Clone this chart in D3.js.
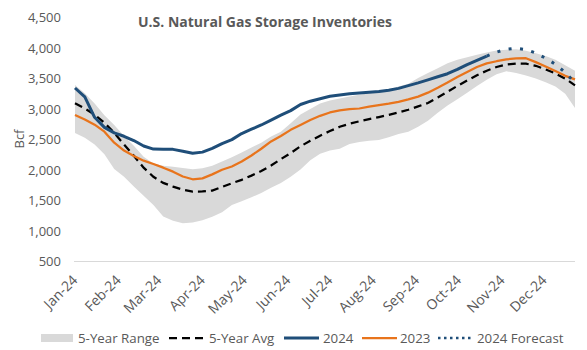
<!DOCTYPE html>
<html><head><meta charset="utf-8">
<script src="https://cdn.jsdelivr.net/npm/d3@7"></script>
<style>
html,body{margin:0;padding:0;background:#fff;}
svg text{font-family:"Open Sans",sans-serif;fill:#595959;}
</style></head>
<body><svg id="c" width="587" height="350"></svg>
<script>
// Weekly report dates (week ending), 2024
const startDate = "2024-01-05";
const weeks = 52;
const monthTickLabels = ["Jan-24","Feb-24","Mar-24","Apr-24","May-24","Jun-24","Jul-24","Aug-24","Sep-24","Oct-24","Nov-24","Dec-24"];
const yTicks = [500,1000,1500,2000,2500,3000,3500,4000,4500];

const series2024 = [3336,3190,2856,2690,2600,2545,2475,2385,2335,2330,2330,2300,2265,2285,2345,2425,2490,2590,2660,2730,2810,2890,2965,3065,3120,3160,3200,3220,3240,3255,3268,3278,3300,3330,3375,3420,3470,3520,3570,3640,3720,3790,3860];
const forecast2024 = [3860,3925,3970,3988,3965,3910,3825,3725,3590,3420];
const series2023 = [2895,2820,2735,2620,2440,2310,2220,2145,2090,2030,1965,1885,1840,1855,1920,1995,2050,2130,2230,2340,2460,2550,2650,2730,2810,2880,2935,2970,2990,3000,3030,3055,3080,3110,3150,3195,3260,3340,3425,3515,3600,3680,3740,3775,3805,3820,3825,3760,3690,3615,3535,3478];
const avg5yr = [3085,3000,2900,2765,2600,2410,2225,2030,1880,1780,1720,1670,1638,1640,1655,1715,1775,1830,1900,1975,2065,2170,2270,2380,2470,2555,2630,2700,2750,2790,2825,2860,2895,2935,2980,3035,3090,3180,3275,3370,3460,3545,3620,3680,3720,3738,3735,3700,3640,3575,3490,3380];
const rangeHigh = [3385,3250,3080,2890,2730,2550,2390,2210,2100,2060,2045,2025,2005,2020,2060,2130,2200,2280,2360,2440,2540,2620,2760,2900,2990,3080,3130,3165,3195,3225,3250,3280,3315,3360,3405,3500,3580,3660,3740,3800,3840,3880,3920,3950,3965,3970,3945,3905,3860,3800,3710,3620];
const rangeLow = [2600,2520,2410,2250,2010,1880,1720,1570,1420,1230,1160,1120,1130,1170,1225,1300,1420,1480,1545,1615,1700,1780,1880,2000,2150,2260,2310,2340,2420,2450,2470,2485,2530,2580,2620,2700,2800,2930,3050,3150,3260,3370,3470,3560,3610,3580,3540,3490,3430,3360,3240,3010];

const legendItems = ["5-Year Range","5-Year Avg","2024","2023","2024 Forecast"];

const parse = d3.timeParse("%Y-%m-%d");
const d0 = parse(startDate);
const dates = d3.range(weeks).map(i => d3.timeDay.offset(d0, 7*i));

const svg = d3.select("#c");
const x = d3.scaleTime().domain([dates[0], dates[weeks-1]]).range([75, 575]);
const y = d3.scaleLinear().domain([500, 4500]).range([261, 17]);

// band
const band = d3.area().x((d,i)=>x(dates[i])).y0((d,i)=>y(rangeLow[i])).y1(d=>y(d)).curve(d3.curveLinear);
svg.append("path").datum(rangeHigh).attr("d", band).attr("fill", "#d9d9d9");

// x axis
const xAxis = d3.axisBottom(x).tickValues(d3.range(12).map(m => d3.timeMonth.offset(d0, m))).tickSize(0).tickFormat((d,i)=>monthTickLabels[i]);
const gx = svg.append("g").attr("transform","translate(0,261)").call(xAxis);
gx.select(".domain").attr("stroke","#d9d9d9").attr("stroke-width",1).attr("d","M74,0.5H575");
gx.selectAll("text").attr("font-size","14px").attr("fill","#595959")
  .attr("text-anchor","end").attr("dy","0").attr("y",0)
  .attr("transform","translate(3,20) rotate(-45)");

// y axis
const yAxis = d3.axisLeft(y).tickValues(yTicks).tickSize(0).tickFormat(d3.format(","));
const gy = svg.append("g").attr("transform","translate(61,0)").call(yAxis);
gy.select(".domain").remove();
gy.selectAll("text").attr("font-size","13px").attr("fill","#595959").attr("x",0).attr("dy","0.35em");

svg.append("text").attr("transform","translate(24,139) rotate(-90)").attr("text-anchor","middle")
  .attr("font-size","13px").text("Bcf");

svg.append("text").attr("x",265).attr("y",27).attr("text-anchor","middle")
  .attr("font-size","14px").attr("font-weight","bold").text("U.S. Natural Gas Storage Inventories");

const line = arr => d3.line().x((d,i)=>x(dates[i])).y(d=>y(d))(arr);
const lineOff = (arr, off) => d3.line().x((d,i)=>x(dates[i+off])).y(d=>y(d))(arr);

svg.append("path").attr("d", line(avg5yr)).attr("fill","none").attr("stroke","#000").attr("stroke-width",2.25).attr("stroke-dasharray","8,5");
svg.append("path").attr("d", line(series2023)).attr("fill","none").attr("stroke","#E8741C").attr("stroke-width",2.25).attr("stroke-linejoin","round");
svg.append("path").attr("d", lineOff(forecast2024, 42)).attr("fill","none").attr("stroke","#1F4E79").attr("stroke-width",3).attr("stroke-dasharray","3,8.5");
svg.append("path").attr("d", line(series2024)).attr("fill","none").attr("stroke","#1F4E79").attr("stroke-width",3).attr("stroke-linejoin","round");

// legend
const ly = 338;
const fs = "13.3px";
const lg = svg.append("g");
lg.append("rect").attr("x",41).attr("y",ly-4).attr("width",32).attr("height",8).attr("fill","#d9d9d9");
lg.append("text").attr("x",78).attr("y",ly).attr("dy","0.35em").attr("font-size",fs).text(legendItems[0]);
lg.append("line").attr("x1",169).attr("x2",205).attr("y1",ly).attr("y2",ly).attr("stroke","#000").attr("stroke-width",2.25).attr("stroke-dasharray","8,5");
lg.append("text").attr("x",209).attr("y",ly).attr("dy","0.35em").attr("font-size",fs).text(legendItems[1]);
lg.append("line").attr("x1",284).attr("x2",319).attr("y1",ly).attr("y2",ly).attr("stroke","#1F4E79").attr("stroke-width",3);
lg.append("text").attr("x",323).attr("y",ly).attr("dy","0.35em").attr("font-size",fs).text(legendItems[2]);
lg.append("line").attr("x1",362).attr("x2",397).attr("y1",ly).attr("y2",ly).attr("stroke","#E8741C").attr("stroke-width",2.25);
lg.append("text").attr("x",400).attr("y",ly).attr("dy","0.35em").attr("font-size",fs).text(legendItems[3]);
lg.append("line").attr("x1",438).attr("x2",473).attr("y1",ly).attr("y2",ly).attr("stroke","#1F4E79").attr("stroke-width",2.5).attr("stroke-dasharray","2.5,3.5");
lg.append("text").attr("x",477).attr("y",ly).attr("dy","0.35em").attr("font-size",fs).text(legendItems[4]);
</script></body></html>
